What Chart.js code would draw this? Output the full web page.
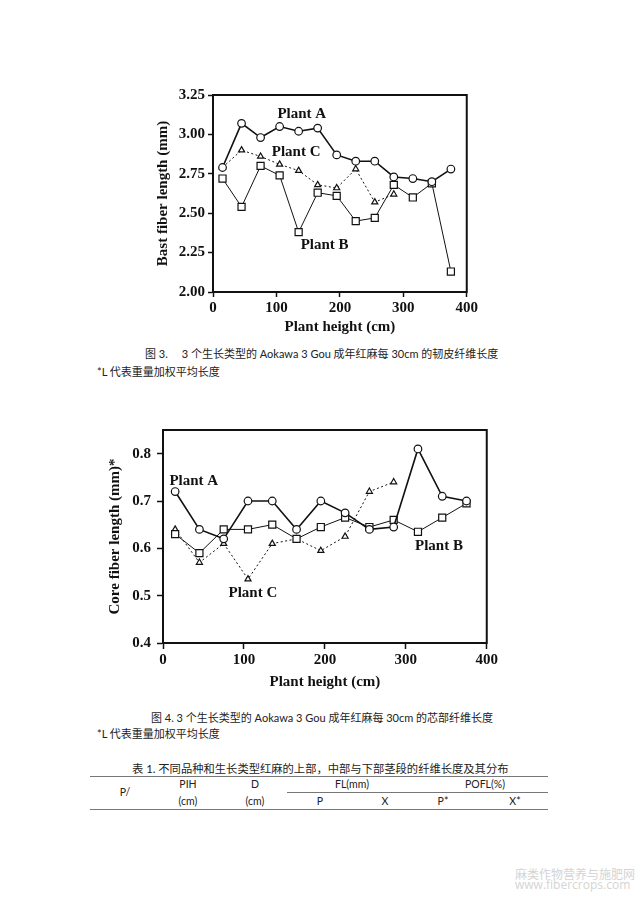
<!DOCTYPE html>
<html><head><meta charset="utf-8">
<script src="https://cdn.jsdelivr.net/npm/chart.js@4.4.0/dist/chart.umd.min.js"></script>
<style>
body{margin:0;background:#fff;width:639px;height:905px;position:relative;overflow:hidden;}
.t{position:absolute;white-space:pre;font-family:Lato,"Noto Sans CJK SC",sans-serif;font-size:11px;line-height:13px;color:#222;}
.h{position:absolute;white-space:pre;font-family:Lato,"Noto Sans CJK SC",sans-serif;font-size:10.5px;line-height:12px;color:#222;transform:translateX(-50%);}
.c{position:absolute}
.rule{position:absolute;height:0;border-top:1.5px solid #777;}
.wm{position:absolute;white-space:pre;font-family:"Open Sans","Noto Sans CJK SC",sans-serif;font-size:12px;line-height:12px;color:#d4d4d4;}
</style></head><body>
<div class="c" style="left:140px;top:83px;"><canvas id="c1" width="340" height="257" style="width:340px;height:257px"></canvas></div>
<div class="t" style="left:145px;top:347px">图 3.<span style="display:inline-block;width:14px"></span>3 个生长类型的 Aokawa 3 Gou 成年红麻每 30cm 的韧皮纤维长度</div>
<div class="t" style="left:97px;top:365px">*L 代表重量加权平均长度</div>

<div class="c" style="left:90px;top:415px;"><canvas id="c2" width="410" height="282" style="width:410px;height:282px"></canvas></div>
<div class="t" style="left:151px;top:711px">图 4. 3 个生长类型的 Aokawa 3 Gou 成年红麻每 30cm 的芯部纤维长度</div>
<div class="t" style="left:97px;top:727px">*L 代表重量加权平均长度</div>

<div class="t" style="left:132px;top:762px;font-size:11.3px">表 1. 不同品种和生长类型红麻的上部，中部与下部茎段的纤维长度及其分布</div>
<div class="rule" style="left:90px;top:776px;width:458px"></div>
<div class="rule" style="left:287px;top:792px;width:261px;border-top-width:1px"></div>
<div class="rule" style="left:90px;top:809px;width:458px"></div>
<div class="h" style="left:125px;top:786px">P/</div>
<div class="h" style="left:188px;top:778px">PIH</div>
<div class="h" style="left:255px;top:778px">D</div>
<div class="h" style="left:352px;top:778px">FL(mm)</div>
<div class="h" style="left:485px;top:778px">POFL(%)</div>
<div class="h" style="left:188px;top:795px">(cm)</div>
<div class="h" style="left:255px;top:795px">(cm)</div>
<div class="h" style="left:320px;top:795px">P</div>
<div class="h" style="left:385px;top:795px">X</div>
<div class="h" style="left:443px;top:795px">P*</div>
<div class="h" style="left:515px;top:795px">X*</div>

<div class="wm" style="left:515px;top:869px">麻类作物营养与施肥网</div>
<div class="wm" style="left:515px;top:879px">www.fibercrops.com</div>

<script>
// ---- data ----
const heights = [15, 45, 75, 105, 135, 165, 195, 225, 255, 285, 315, 345, 375];
const bastA = [2.79, 3.07, 2.98, 3.05, 3.02, 3.04, 2.87, 2.83, 2.83, 2.73, 2.72, 2.70, 2.78];
const bastB = [2.72, 2.54, 2.80, 2.74, 2.38, 2.63, 2.61, 2.45, 2.47, 2.68, 2.60, 2.69, 2.13];
const bastC = [2.79, 2.90, 2.86, 2.81, 2.77, 2.68, 2.66, 2.78, 2.57, 2.62];
const coreA = [0.72, 0.64, 0.62, 0.70, 0.70, 0.64, 0.70, 0.675, 0.64, 0.645, 0.81, 0.71, 0.70];
const coreB = [0.63, 0.59, 0.64, 0.64, 0.65, 0.62, 0.645, 0.665, 0.645, 0.66, 0.635, 0.665, 0.695];
const coreC = [0.64, 0.57, 0.61, 0.535, 0.61, 0.62, 0.595, 0.625, 0.72, 0.74];
const xTicks = [0, 100, 200, 300, 400];
const bastLabels = [{text:'Plant A', x:140, y:3.13}, {text:'Plant C', x:131, y:2.89}, {text:'Plant B', x:176, y:2.30}];
const coreLabels = [{text:'Plant A', x:38, y:0.742}, {text:'Plant C', x:111, y:0.506}, {text:'Plant B', x:341, y:0.604}];

Chart.defaults.font.family = '"Liberation Serif", "Times New Roman", serif';
Chart.defaults.font.weight = 'bold';
Chart.defaults.color = '#111';
Chart.defaults.devicePixelRatio = 1;

const INK = '#111';
const toXY = ys => ys.map((y, i) => ({x: heights[i], y}));

const boxPlugin = {
  id: 'box',
  afterDraw(chart, args, opts) {
    const {ctx, chartArea: a, scales} = chart;
    ctx.save();
    ctx.strokeStyle = INK; ctx.lineWidth = 2;
    ctx.strokeRect(a.left, a.top, a.right - a.left, a.bottom - a.top);
    ctx.font = 'bold 15px "Liberation Serif", serif';
    ctx.fillStyle = INK; ctx.textAlign = 'center'; ctx.textBaseline = 'middle';
    (opts.labels || []).forEach(l => ctx.fillText(l.text, scales.x.getPixelForValue(l.x), scales.y.getPixelForValue(l.y)));
    ctx.restore();
  }
};

function ds(data, style, width, dash, radius) {
  return {data: toXY(data), borderColor: INK, borderWidth: width, borderDash: dash,
    pointStyle: style, pointRadius: radius, pointBackgroundColor: '#fff', pointBorderColor: INK,
    pointBorderWidth: 1.2, fill: false, tension: 0, clip: false};
}

function makeChart(id, sets, yOpt, labels, geo) {
  return new Chart(document.getElementById(id), {
    type: 'line',
    data: {datasets: sets},
    plugins: [boxPlugin],
    options: {
      responsive: false, animation: false,
      layout: {padding: {top: geo.top, right: geo.right, left: 0, bottom: 0}},
      plugins: {legend: {display: false}, tooltip: {enabled: false}, box: {labels}},
      scales: {
        x: {type: 'linear', min: 0, max: 400,
          afterBuildTicks: s => { s.ticks = xTicks.map(v => ({value: v})); },
          afterFit: s => { s.height = geo.xh; },
          grid: {drawOnChartArea: false, tickLength: geo.tl, color: INK, tickWidth: 1.5},
          border: {display: true, color: INK, width: 2},
          ticks: {font: {size: 15, weight: 'bold'}, padding: 2, color: INK, maxRotation: 0},
          title: {display: true, text: 'Plant height (cm)', font: {size: 15, weight: 'bold'}, padding: {top: 0, bottom: geo.xtp}, color: INK}
        },
        y: Object.assign({type: 'linear',
          afterFit: s => { s.width = 73; },
          grid: {drawOnChartArea: false, tickLength: geo.tl, color: INK, tickWidth: 1.5},
          border: {display: true, color: INK, width: 2},
        }, yOpt)
      }
    }
  });
}

makeChart('c1', [
  ds(bastA, 'circle', 1.6, [], 3.8),
  ds(bastB, 'rect', 1, [], 5),
  ds(bastC, 'triangle', 1, [2, 2.5], 3.5)
], {
  min: 2, max: 3.25,
  ticks: {stepSize: 0.25, includeBounds: false, font: {size: 15, weight: 'bold'}, padding: 3, color: INK, callback: v => v.toFixed(2)},
  title: {display: true, text: 'Bast fiber length (mm)', font: {size: 15, weight: 'bold'}, padding: {top: 14, bottom: 0}, color: INK}
}, bastLabels, {top: 10, right: 10, xh: 48, xtp: 4, tl: 5});

makeChart('c2', [
  ds(coreA, 'circle', 1.6, [], 3.8),
  ds(coreB, 'rect', 1, [], 5),
  ds(coreC, 'triangle', 1, [2, 2.5], 3.5)
], {
  min: 0.4, max: 0.85,
  ticks: {stepSize: 0.1, includeBounds: false, font: {size: 15, weight: 'bold'}, padding: 6, color: INK, callback: v => v.toFixed(1)},
  title: {display: true, text: 'Core fiber length (mm)*', font: {size: 15, weight: 'bold'}, padding: {top: 16, bottom: 0}, color: INK}
}, coreLabels, {top: 12, right: 13, xh: 54, xtp: 6, tl: 6});
</script>
</body></html>
